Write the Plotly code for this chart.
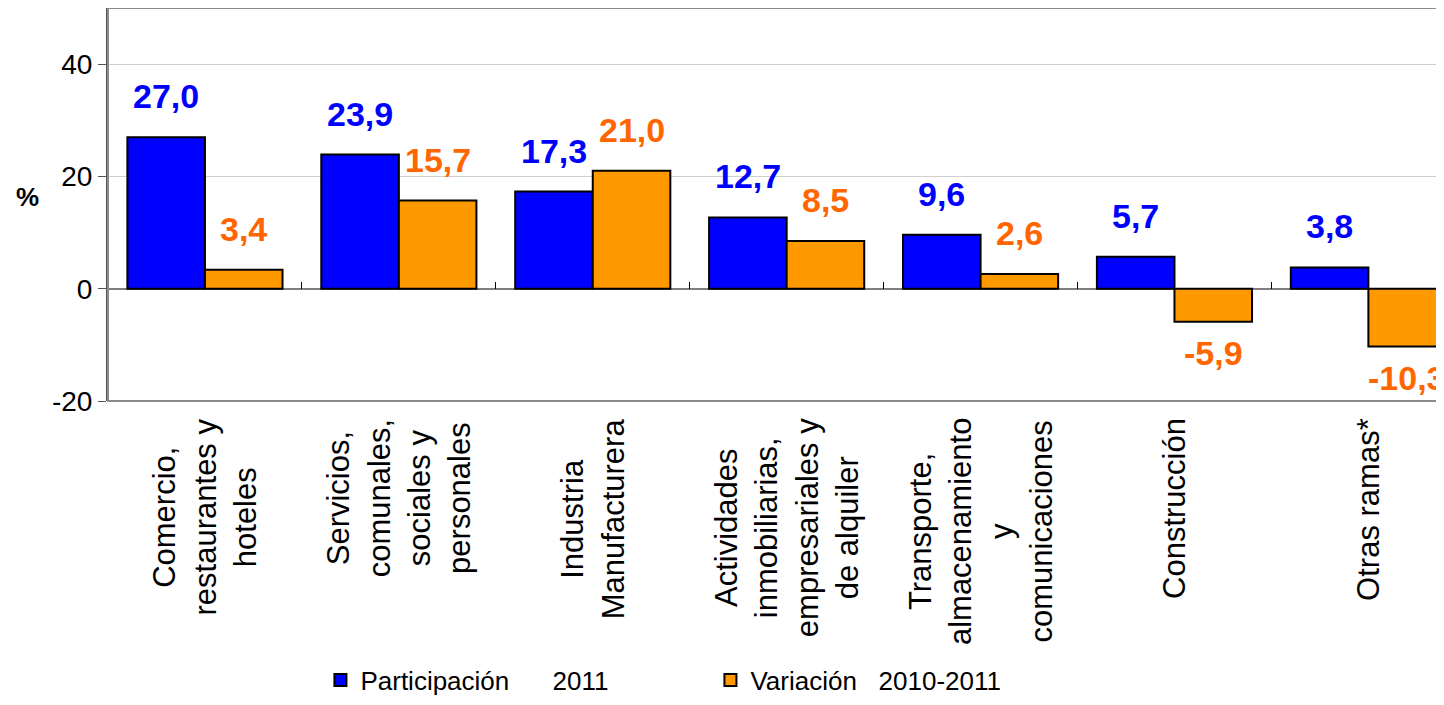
import plotly.graph_objects as go

categories = [
    "Comercio,<br>restaurantes y<br>hoteles",
    "Servicios,<br>comunales,<br>sociales y<br>personales",
    "Industria<br>Manufacturera",
    "Actividades<br>inmobiliarias,<br>empresariales y<br>de alquiler",
    "Transporte,<br>almacenamiento<br>y<br>comunicaciones",
    "Construcción",
    "Otras ramas*",
]
participacion = [27.0, 23.9, 17.3, 12.7, 9.6, 5.7, 3.8]
variacion = [3.4, 15.7, 21.0, 8.5, 2.6, -5.9, -10.3]
series_names = ["Participación\u00a0\u00a0\u00a0\u00a0\u00a0\u00a02011",
                "Variación\u00a0\u00a0\u00a02010-2011"]
y_ticks = [-20, 0, 20, 40]
y_ticktext = ["-20", "0", "20", "40"]

FONT = "Liberation Sans, Arial, sans-serif"
BLUE = "#0000FF"
ORANGE = "#FF9900"
LABEL_ORANGE = "#FF6600"

idx = list(range(len(categories)))

fig = go.Figure()
fig.add_trace(go.Bar(x=idx, y=participacion, name=series_names[0],
                     marker=dict(color=BLUE, line=dict(color="black", width=2))))
fig.add_trace(go.Bar(x=idx, y=variacion, name=series_names[1],
                     marker=dict(color=ORANGE, line=dict(color="black", width=2))))

def fmt(v):
    return f"{v:.1f}".replace(".", ",")

ann = []
half = 0.2
for series, off, col in [(participacion, -half, BLUE), (variacion, half, LABEL_ORANGE)]:
    for i, v in enumerate(series):
        ann.append(dict(x=i + off, y=v, xref="x", yref="y", text=fmt(v), showarrow=False,
                        yanchor="bottom" if v >= 0 else "top",
                        yshift=20 if v >= 0 else -10,
                        font=dict(family=FONT, size=34, color=col, weight="bold")))
for i, c in enumerate(categories):
    ann.append(dict(x=i, y=0, xref="x", yref="paper", text=c, showarrow=False,
                    textangle=-90, align="center", yanchor="top", xanchor="center",
                    yshift=-15, font=dict(family=FONT, size=31, color="black")))
ann.append(dict(x=0, xshift=-81, y=16.3, xref="paper", yref="y", text="<b>%</b>",
                showarrow=False, xanchor="center",
                font=dict(family=FONT, size=26, color="black")))

fig.update_layout(
    width=1436, height=697,
    margin=dict(l=100, r=0, t=0, b=304),
    paper_bgcolor="white", plot_bgcolor="white",
    barmode="group", bargap=0.2, bargroupgap=0,
    font=dict(family=FONT, color="black"),
    annotations=ann,
    showlegend=True,
    legend=dict(orientation="h", x=0.159, xanchor="left", y=-0.71, yanchor="middle",
                font=dict(family=FONT, size=26, color="black"),
                entrywidth=345, itemwidth=30, traceorder="normal"),
    xaxis=dict(type="linear", range=[-0.5, 6.39], anchor="free", position=20 / 70,
               tickmode="array", tickvals=[i + 0.5 for i in idx],
               ticks="inside", ticklen=7, tickcolor="black", tickwidth=1,
               showticklabels=False, showgrid=False, zeroline=False, showline=False),
    yaxis=dict(range=[-20, 50], tickvals=y_ticks, ticktext=y_ticktext,
               ticks="outside", ticklen=8,
               tickcolor="#555555", showline=True, linecolor="#555555", linewidth=2,
               gridcolor="#cfcfcf", gridwidth=1, zeroline=True, zerolinecolor="#7f7f7f",
               zerolinewidth=2, tickfont=dict(family=FONT, size=28, color="black")),
    shapes=[dict(type="rect", xref="paper", yref="paper", x0=0, x1=1.002, y0=0, y1=1,
                 line=dict(color="#8c8c8c", width=2), layer="above")],
)

fig.write_html("out.html")
